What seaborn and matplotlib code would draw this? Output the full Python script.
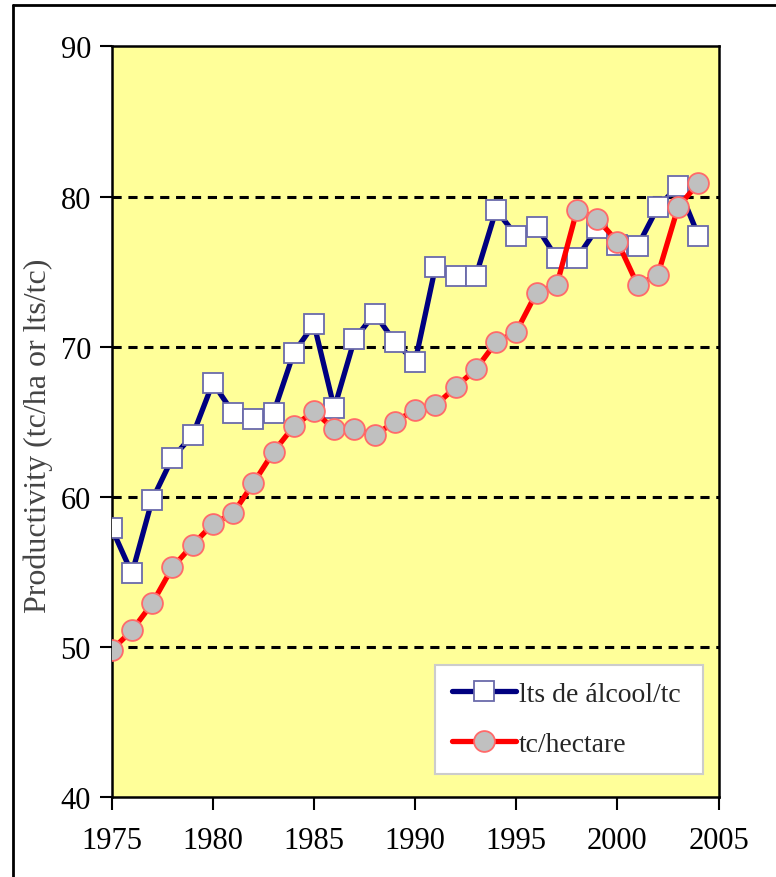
import matplotlib
matplotlib.use("Agg")
import matplotlib.pyplot as plt
from matplotlib.lines import Line2D
import seaborn as sns
import numpy as np
import pandas as pd

sns.set_theme(style="white")
plt.rcParams['font.family'] = ['Liberation Serif', 'DejaVu Serif']

# --------------------------------------
# data
# --------------------------------------
years = list(range(1975, 2005))
lts_alcool = [57.9, 54.9, 59.8, 62.6, 64.1, 67.6, 65.6, 65.2, 65.6, 69.6,
              71.5, 65.9, 70.5, 72.2, 70.3, 69.0, 75.3, 74.7, 74.7, 79.1,
              77.4, 78.0, 75.9, 75.9, 77.9, 76.8, 76.7, 79.3, 80.7, 77.4]
tc_hectare = [49.8, 51.1, 52.9, 55.3, 56.8, 58.2, 58.9, 60.9, 63.0, 64.7,
              65.7, 64.5, 64.5, 64.1, 65.0, 65.8, 66.1, 67.3, 68.5, 70.3,
              71.0, 73.6, 74.1, 79.1, 78.5, 77.0, 74.1, 74.8, 79.3, 80.9]
series_names = ["lts de álcool/tc", "tc/hectare"]
y_ticks = [40, 50, 60, 70, 80, 90]
x_ticks = [1975, 1980, 1985, 1990, 1995, 2000, 2005]

df_a = pd.DataFrame({"year": years, "value": lts_alcool})
df_t = pd.DataFrame({"year": years, "value": tc_hectare})

fig = plt.figure(figsize=(7.76, 8.78), dpi=100)
ax = fig.add_axes([0.144, 0.091, 0.782, 0.855])
ax.set_facecolor("#FFFF99")

sns.lineplot(data=df_a, x="year", y="value", ax=ax, color="#000080",
             linewidth=3.8, marker="s", markersize=15,
             markerfacecolor="white", markeredgecolor="#6a6aaa",
             markeredgewidth=1.3, label=series_names[0], zorder=3)
sns.lineplot(data=df_t, x="year", y="value", ax=ax, color="#FF0000",
             linewidth=3.8, marker="o", markersize=15,
             markerfacecolor="#C0C0C0", markeredgecolor="#ff6a6a",
             markeredgewidth=1.3, label=series_names[1], zorder=4)

ax.set_xlim(x_ticks[0], x_ticks[-1])
ax.set_ylim(y_ticks[0], y_ticks[-1])
ax.set_xticks(x_ticks)
ax.set_yticks(y_ticks)
ax.tick_params(axis="both", which="major", direction="out", length=9,
               width=1.5, labelsize=22, colors="black",
               bottom=True, left=True)
ax.tick_params(axis="x", pad=12)
ax.tick_params(axis="y", pad=6)

# dashed gridlines
for yv in y_ticks[1:-1]:
    ax.axhline(yv, color="black", linestyle=(0, (3, 2.2)), linewidth=2.2, zorder=1)

for side in ["top", "right", "bottom", "left"]:
    ax.spines[side].set_visible(True)
    ax.spines[side].set_color("black")
    ax.spines[side].set_linewidth(1.8)

ax.set_xlabel("")
ax.set_ylabel("Productivity (tc/ha or lts/tc)", fontsize=23, color="#444444")
ax.yaxis.set_label_coords(-0.097, 0.483)

leg = ax.legend(loc="lower left", bbox_to_anchor=(0.533, 0.031, 0.441, 0.146),
                mode="expand", borderaxespad=0, fontsize=20, frameon=True,
                fancybox=False, handlelength=2.3, handletextpad=0.1,
                borderpad=0.6, labelspacing=0.9)
leg.get_frame().set_edgecolor("#cccccc")
leg.get_frame().set_linewidth(1.5)
leg.get_frame().set_facecolor("white")
leg.get_frame().set_alpha(1)

# outer slide frame
fig.add_artist(Line2D([0.0168, 0.0168], [0.0, 0.993], color="black", linewidth=2,
                      transform=fig.transFigure))
fig.add_artist(Line2D([0.0168, 1.0], [0.993, 0.993], color="black", linewidth=2,
                      transform=fig.transFigure))

fig.savefig("out.png", dpi=100)
